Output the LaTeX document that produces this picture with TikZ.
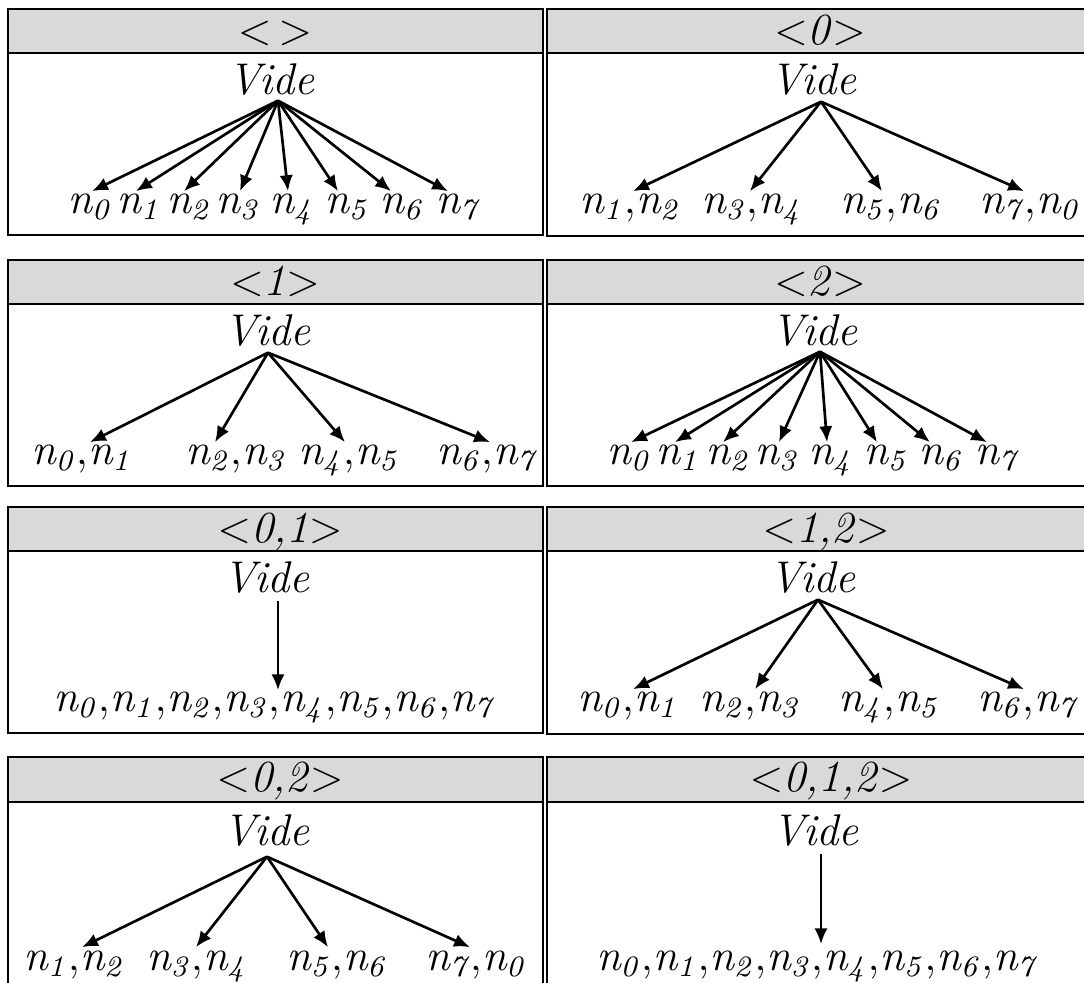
\documentclass[tikz,border=0pt]{standalone}
\usetikzlibrary{arrows.meta,calc}
\definecolor{hdr}{RGB}{217,217,217}
\scriptspace=0pt
\tikzset{
  frame/.style={draw=black,line width=0.65pt},
  hdrbox/.style={frame,fill=hdr},
  hdrtxt/.style={inner sep=0pt,anchor=base},
  videtxt/.style={inner sep=0pt,anchor=base},
  lbl/.style={inner sep=0pt,anchor=base},
  arr/.style={line width=0.72pt,-{Latex[length=4.3pt,width=3.6pt]}},
}
\begin{document}
\begin{tikzpicture}[x=0.27027pt,y=-0.27027pt,font=\fontsize{12}{14}\selectfont]
\clip (0,0) rectangle (1084,982);
\fill[white] (0,0) rectangle (1084,982);
% ---------- Row 1 ----------
\draw[hdrbox] (8,9) rectangle (543,53);
\draw[frame] (8,53) rectangle (543,235);
\draw[hdrbox] (547,9) rectangle (1100,53);
\draw[frame] (547,53) rectangle (1100,236);
% ---------- Row 2 ----------
\draw[hdrbox] (8,260) rectangle (543,304);
\draw[frame] (8,304) rectangle (543,486);
\draw[hdrbox] (547,260) rectangle (1100,304);
\draw[frame] (547,304) rectangle (1100,486);
% ---------- Row 3 ----------
\draw[hdrbox] (8,507) rectangle (543,551);
\draw[frame] (8,551) rectangle (543,733);
\draw[hdrbox] (547,507) rectangle (1100,551);
\draw[frame] (547,551) rectangle (1100,734);
% ---------- Row 4 ----------
\draw[hdrbox] (8,757) rectangle (543,802);
\draw[frame] (8,802) rectangle (543,1000);
\draw[hdrbox] (547,757) rectangle (1100,802);
\draw[frame] (547,802) rectangle (1100,1000);

% ===== Panel A : <> =====
\node[hdrtxt] (hA) at (275,44) {$<$\hspace{0.15em}$>$};
\node[videtxt] (vA) at (272,94) {\textit{Vide}};
\node[lbl] (a0) at (90,213)  {$\mathit{n_0}$};
\node[lbl] (a1) at (139,213) {$\mathit{n_1}$};
\node[lbl] (a2) at (189,213) {$\mathit{n_2}$};
\node[lbl] (a3) at (238,213) {$\mathit{n_3}$};
\node[lbl] (a4) at (292,213) {$\mathit{n_4}$};
\node[lbl] (a5) at (347,213) {$\mathit{n_5}$};
\node[lbl] (a6) at (402,213) {$\mathit{n_6}$};
\node[lbl] (a7) at (458,213) {$\mathit{n_7}$};
\draw[arr] ($(vA.south)+(6,5)$) -- ($(a0.north)+(2,-2)$);
\draw[arr] ($(vA.south)+(6,5)$) -- ($(a1.north)+(-3,-2)$);
\draw[arr] ($(vA.south)+(6,5)$) -- ($(a2.north)+(-5,-2)$);
\draw[arr] ($(vA.south)+(6,5)$) -- ($(a3.north)+(2,-2)$);
\draw[arr] ($(vA.south)+(6,5)$) -- ($(a4.north)+(-4,-2)$);
\draw[arr] ($(vA.south)+(6,5)$) -- ($(a5.north)+(-9,-2)$);
\draw[arr] ($(vA.south)+(6,5)$) -- ($(a6.north)+(-11,-2)$);
\draw[arr] ($(vA.south)+(6,5)$) -- ($(a7.north)+(-10,-2)$);

% ===== Panel B : <0> =====
\node[hdrtxt] (hB) at (820,44) {$<$\textit{0}$>$};
\node[videtxt] (vB) at (814,94) {\textit{Vide}};
\node[lbl] (b0) at (630,213)  {$\mathit{n_1{,}n_2}$};
\node[lbl] (b1) at (752,213)  {$\mathit{n_3{,}n_4}$};
\node[lbl] (b2) at (891,213)  {$\mathit{n_5{,}n_6}$};
\node[lbl] (b3) at (1030,213) {$\mathit{n_7{,}n_0}$};
\draw[arr] ($(vB.south)+(7,6)$) -- ($(b0.north)+(3,-2)$);
\draw[arr] ($(vB.south)+(7,6)$) -- ($(b1.north)+(-2,-2)$);
\draw[arr] ($(vB.south)+(7,6)$) -- ($(b2.north)+(-9,-2)$);
\draw[arr] ($(vB.south)+(7,6)$) -- ($(b3.north)+(-6,-2)$);

% ===== Panel C : <1> =====
\node[hdrtxt] (hC) at (275,295) {$<$\textit{1}$>$};
\node[videtxt] (vC) at (268,345) {\textit{Vide}};
\node[lbl] (c0) at (82,464)  {$\mathit{n_0{,}n_1}$};
\node[lbl] (c1) at (236,464) {$\mathit{n_2{,}n_3}$};
\node[lbl] (c2) at (349,464) {$\mathit{n_4{,}n_5}$};
\node[lbl] (c3) at (487,464) {$\mathit{n_6{,}n_7}$};
\draw[arr] ($(vC.south)+(0,6)$) -- ($(c0.north)+(8,-2)$);
\draw[arr] ($(vC.south)+(0,6)$) -- ($(c1.north)+(-21,-2)$);
\draw[arr] ($(vC.south)+(0,6)$) -- ($(c2.north)+(-4,-2)$);
\draw[arr] ($(vC.south)+(0,6)$) -- ($(c3.north)+(3,-2)$);

% ===== Panel D : <2> =====
\node[hdrtxt] (hD) at (820,295) {$<$\textit{2}$>$};
\node[videtxt] (vD) at (815,345) {\textit{Vide}};
\node[lbl] (d0) at (629,464) {$\mathit{n_0}$};
\node[lbl] (d1) at (678,464) {$\mathit{n_1}$};
\node[lbl] (d2) at (728,464) {$\mathit{n_2}$};
\node[lbl] (d3) at (777,464) {$\mathit{n_3}$};
\node[lbl] (d4) at (831,464) {$\mathit{n_4}$};
\node[lbl] (d5) at (886,464) {$\mathit{n_5}$};
\node[lbl] (d6) at (941,464) {$\mathit{n_6}$};
\node[lbl] (d7) at (997,464) {$\mathit{n_7}$};
\draw[arr] ($(vD.south)+(5,5)$) -- ($(d0.north)+(2,-2)$);
\draw[arr] ($(vD.south)+(5,5)$) -- ($(d1.north)+(-3,-2)$);
\draw[arr] ($(vD.south)+(5,5)$) -- ($(d2.north)+(-5,-2)$);
\draw[arr] ($(vD.south)+(5,5)$) -- ($(d3.north)+(2,-2)$);
\draw[arr] ($(vD.south)+(5,5)$) -- ($(d4.north)+(-4,-2)$);
\draw[arr] ($(vD.south)+(5,5)$) -- ($(d5.north)+(-9,-2)$);
\draw[arr] ($(vD.south)+(5,5)$) -- ($(d6.north)+(-11,-2)$);
\draw[arr] ($(vD.south)+(5,5)$) -- ($(d7.north)+(-10,-2)$);

% ===== Panel E : <0,1> =====
\node[hdrtxt] (hE) at (280,542) {$<$\textit{0,1}$>$};
\node[videtxt] (vE) at (267,592) {\textit{Vide}};
\node[lbl] (e0) at (274,711) {$\mathit{n_0{,}n_1{,}n_2{,}n_3{,}n_4{,}n_5{,}n_6{,}n_7}$};
\draw[arr] ($(vE.south)+(11,7)$) -- ($(e0.north)+(4,-1)$);

% ===== Panel F : <1,2> =====
\node[hdrtxt] (hF) at (826,542) {$<$\textit{1,2}$>$};
\node[videtxt] (vF) at (813,592) {\textit{Vide}};
\node[lbl] (f0) at (628,711)  {$\mathit{n_0{,}n_1}$};
\node[lbl] (f1) at (750,711)  {$\mathit{n_2{,}n_3}$};
\node[lbl] (f2) at (889,711)  {$\mathit{n_4{,}n_5}$};
\node[lbl] (f3) at (1028,711) {$\mathit{n_6{,}n_7}$};
\draw[arr] ($(vF.south)+(5,6)$) -- ($(f0.north)+(5,-2)$);
\draw[arr] ($(vF.south)+(5,6)$) -- ($(f1.north)+(5,-2)$);
\draw[arr] ($(vF.south)+(5,6)$) -- ($(f2.north)+(-6,-2)$);
\draw[arr] ($(vF.south)+(5,6)$) -- ($(f3.north)+(-4,-2)$);

% ===== Panel G : <0,2> =====
\node[hdrtxt] (hG) at (280,791) {$<$\textit{0,2}$>$};
\node[videtxt] (vG) at (267,845) {\textit{Vide}};
\node[lbl] (g0) at (74,970)  {$\mathit{n_1{,}n_2}$};
\node[lbl] (g1) at (197,970) {$\mathit{n_3{,}n_4}$};
\node[lbl] (g2) at (337,970) {$\mathit{n_5{,}n_6}$};
\node[lbl] (g3) at (476,970) {$\mathit{n_7{,}n_0}$};
\draw[arr] ($(vG.south)+(0,10)$) -- ($(g0.north)+(8,-3)$);
\draw[arr] ($(vG.south)+(0,10)$) -- ($(g1.north)+(-1,-3)$);
\draw[arr] ($(vG.south)+(0,10)$) -- ($(g2.north)+(-9,-3)$);
\draw[arr] ($(vG.south)+(0,10)$) -- ($(g3.north)+(-6,-3)$);

% ===== Panel H : <0,1,2> =====
\node[hdrtxt] (hH) at (831,791) {$<$\textit{0,1,2}$>$};
\node[videtxt] (vH) at (816,845) {\textit{Vide}};
\node[lbl] (h0) at (817,970) {$\mathit{n_0{,}n_1{,}n_2{,}n_3{,}n_4{,}n_5{,}n_6{,}n_7}$};
\draw[arr] ($(vH.south)+(5,7)$) -- ($(h0.north)+(4,-6)$);
\end{tikzpicture}
\end{document}
